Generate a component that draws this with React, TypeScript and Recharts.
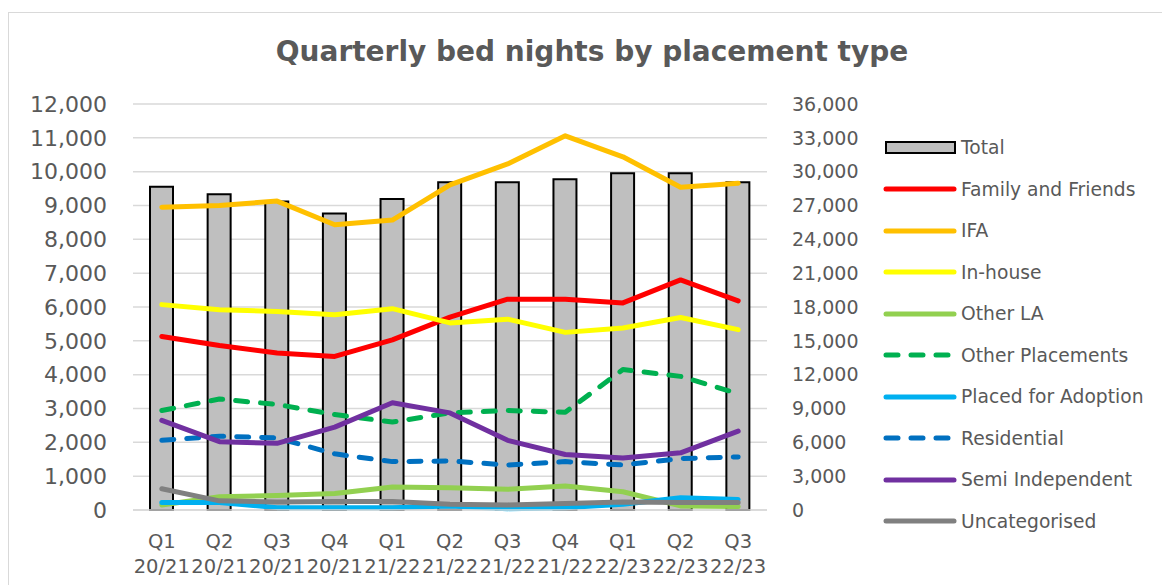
import React from "react"
import { Bar, ComposedChart, Line, XAxis, YAxis, CartesianGrid } from "recharts"

const quarters = [
  "Q1 20/21", "Q2 20/21", "Q3 20/21", "Q4 20/21",
  "Q1 21/22", "Q2 21/22", "Q3 21/22", "Q4 21/22",
  "Q1 22/23", "Q2 22/23", "Q3 22/23",
]

const total = [28670, 28000, 27350, 26300, 27580, 29060, 29060, 29330, 29850, 29850, 29060]
const familyFriends = [5130, 4860, 4640, 4540, 5030, 5700, 6230, 6230, 6120, 6800, 6180]
const ifa = [8950, 9000, 9130, 8430, 8570, 9610, 10230, 11060, 10440, 9540, 9660]
const inHouse = [6070, 5920, 5870, 5770, 5950, 5530, 5640, 5250, 5380, 5690, 5330]
const otherLA = [150, 390, 430, 490, 680, 660, 610, 710, 540, 120, 100]
const otherPlacements = [2940, 3280, 3120, 2820, 2600, 2870, 2940, 2890, 4150, 3950, 3440]
const placedAdoption = [220, 220, 70, 70, 70, 120, 40, 70, 170, 360, 310]
const residential = [2060, 2180, 2130, 1660, 1430, 1450, 1330, 1430, 1330, 1520, 1570]
const semiIndependent = [2650, 2020, 1970, 2450, 3170, 2870, 2060, 1640, 1540, 1690, 2330]
const uncategorised = [630, 270, 240, 250, 250, 170, 150, 190, 240, 220, 220]

const leftTicks = [0, 1000, 2000, 3000, 4000, 5000, 6000, 7000, 8000, 9000, 10000, 11000, 12000]
const rightTicks = [0, 3000, 6000, 9000, 12000, 15000, 18000, 21000, 24000, 27000, 30000, 33000, 36000]

const lines = [
  { key: "familyFriends", name: "Family and Friends", color: "#FF0000", dashed: false },
  { key: "ifa", name: "IFA", color: "#FFC000", dashed: false },
  { key: "inHouse", name: "In-house", color: "#FFFF00", dashed: false },
  { key: "otherLA", name: "Other LA", color: "#92D050", dashed: false },
  { key: "otherPlacements", name: "Other Placements", color: "#00B050", dashed: true },
  { key: "placedAdoption", name: "Placed for Adoption", color: "#00B0F0", dashed: false },
  { key: "residential", name: "Residential", color: "#0070C0", dashed: true },
  { key: "semiIndependent", name: "Semi Independent", color: "#7030A0", dashed: false },
  { key: "uncategorised", name: "Uncategorised", color: "#808080", dashed: false },
]

const data = quarters.map((q, i) => ({
  quarter: q,
  total: total[i],
  familyFriends: familyFriends[i],
  ifa: ifa[i],
  inHouse: inHouse[i],
  otherLA: otherLA[i],
  otherPlacements: otherPlacements[i],
  placedAdoption: placedAdoption[i],
  residential: residential[i],
  semiIndependent: semiIndependent[i],
  uncategorised: uncategorised[i],
}))

const FONT = "'DejaVu Sans', Verdana, sans-serif"
const TEXT = "#595959"

const fmt = (v: number) => v.toLocaleString("en-GB")

function QuarterTick({ x, y, payload }: any) {
  const [q, yr] = String(payload.value).split(" ")
  return (
    <text x={x} y={y} textAnchor="middle" fill={TEXT} fontSize={19.5} fontFamily={FONT}>
      <tspan x={x} dy={38}>{q}</tspan>
      <tspan x={x} dy={25}>{yr}</tspan>
    </text>
  )
}

function ChartLegend() {
  const rows = [{ name: "Total", color: "", dashed: false, bar: true }, ...lines.map((l) => ({ ...l, bar: false }))]
  return (
    <div style={{ fontFamily: FONT, fontSize: 18.7, color: TEXT }}>
      {rows.map((r) => (
        <div key={r.name} style={{ height: 41.5, display: "flex", alignItems: "center" }}>
          <svg width={78} height={16} style={{ flex: "none" }}>
            {r.bar ? (
              <rect x={3} y={2} width={69} height={11} fill="#BFBFBF" stroke="#000" strokeWidth={2} />
            ) : (
              <line
                x1={3}
                y1={8}
                x2={71}
                y2={8}
                stroke={r.color}
                strokeWidth={5}
                strokeLinecap="round"
                strokeDasharray={r.dashed ? "12 13" : undefined}
              />
            )}
          </svg>
          <span style={{ whiteSpace: "nowrap" }}>{r.name}</span>
        </div>
      ))}
    </div>
  )
}

export default function App() {
  return (
    <div style={{ position: "absolute", left: 0, top: 0, width: 1162, height: 585, overflow: "hidden", background: "#fff" }}>
      <div
        style={{
          position: "absolute",
          left: 8,
          top: 12,
          width: 1160,
          height: 600,
          border: "1px solid #D9D9D9",
        }}
      />
      <div
        style={{
          position: "absolute",
          left: 8,
          width: 1168,
          top: 35,
          textAlign: "center",
          fontFamily: FONT,
          fontWeight: "bold",
          fontSize: 28,
          color: TEXT,
        }}
      >
        Quarterly bed nights by placement type
      </div>
      <div style={{ position: "absolute", left: 0, top: 0 }}>
        <ComposedChart width={1162} height={585} data={data} margin={{ top: 104, right: 295, bottom: 5, left: 0 }}>
          <CartesianGrid yAxisId="left" vertical={false} stroke="#D9D9D9" strokeWidth={1.5} />
          <XAxis
            dataKey="quarter"
            height={70}
            tickSize={0}
            tickMargin={0}
            interval={0}
            axisLine={{ stroke: "#D9D9D9", strokeWidth: 1.5 }}
            tickLine={false}
            tick={<QuarterTick />}
          />
          <YAxis
            yAxisId="left"
            width={133}
            domain={[0, 12000]}
            ticks={leftTicks}
            tickFormatter={fmt}
            tickSize={0}
            tickMargin={26}
            axisLine={false}
            tickLine={false}
            tick={{ fill: TEXT, fontSize: 22, fontFamily: FONT }}
          />
          <YAxis
            yAxisId="right"
            orientation="right"
            width={100}
            domain={[0, 36000]}
            ticks={rightTicks}
            tickFormatter={fmt}
            tickSize={0}
            tickMargin={25}
            axisLine={false}
            tickLine={false}
            tick={{ fill: TEXT, fontSize: 19, fontFamily: FONT }}
          />
          <Bar
            yAxisId="right"
            dataKey="total"
            name="Total"
            fill="#BFBFBF"
            stroke="#000"
            strokeWidth={2}
            barSize={23}
            isAnimationActive={false}
          />
          {lines.map((l) => (
            <Line
              key={l.key}
              yAxisId="left"
              type="linear"
              dataKey={l.key}
              name={l.name}
              stroke={l.color}
              strokeWidth={5}
              strokeLinecap="round"
              strokeLinejoin="round"
              strokeDasharray={l.dashed ? "12 13" : undefined}
              dot={false}
              activeDot={false}
              isAnimationActive={false}
            />
          ))}
        </ComposedChart>
      </div>
      <div style={{ position: "absolute", left: 883, top: 127, width: 275 }}>
        <ChartLegend />
      </div>
    </div>
  )
}
